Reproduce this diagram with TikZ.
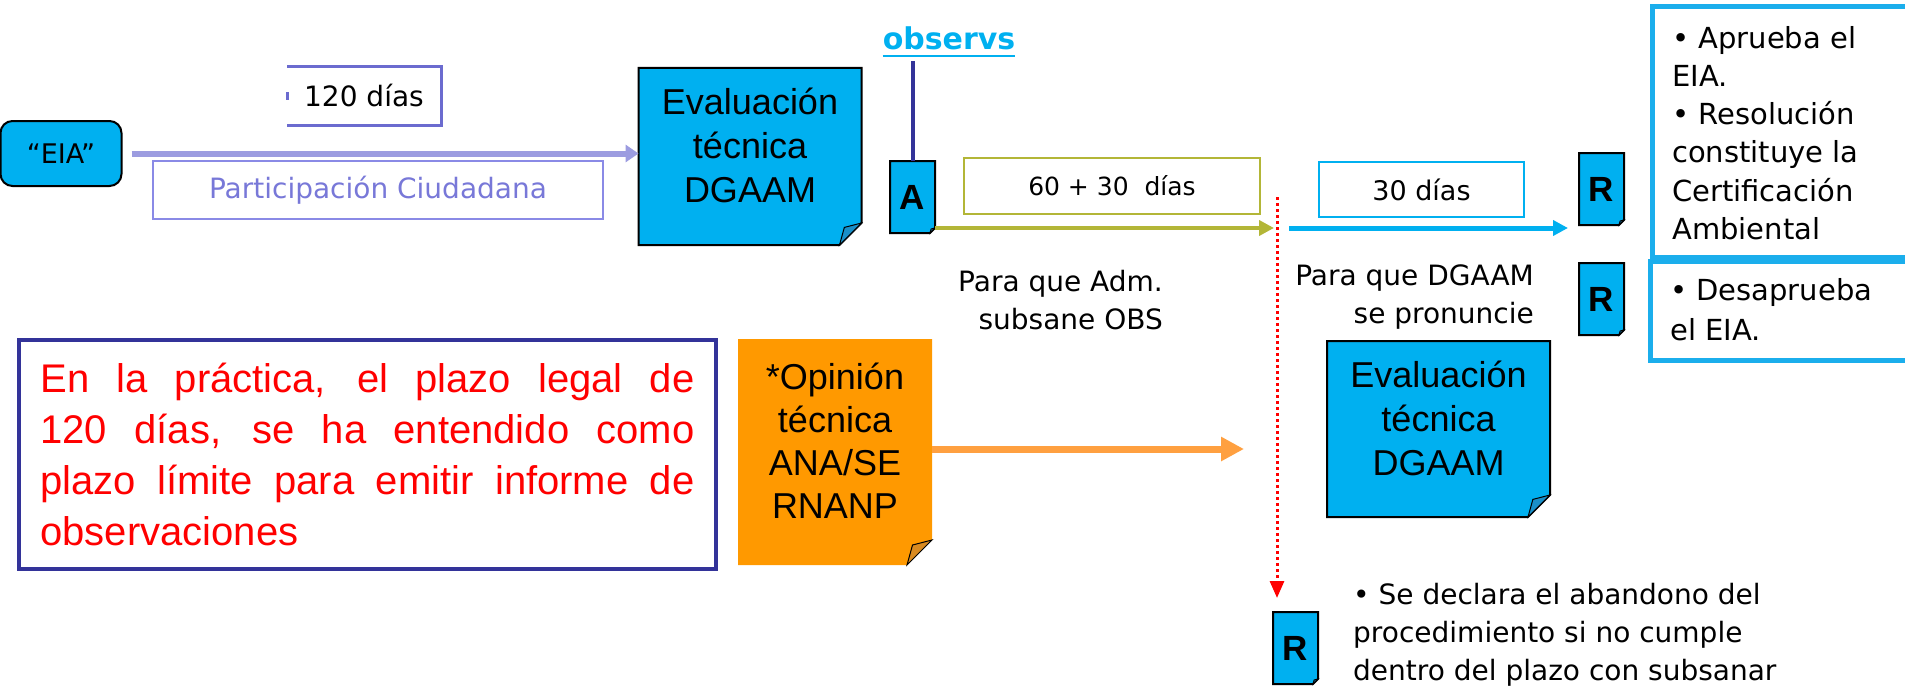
\documentclass[tikz,border=0pt]{standalone}
\usepackage{fontspec}
\setmainfont{Liberation Sans}
\newfontfamily\comic{DejaVu Sans}
\usetikzlibrary{arrows.meta,backgrounds}
\definecolor{cy}{HTML}{00B0F0}
\definecolor{cyfold}{HTML}{1A8FC8}
\definecolor{lav}{HTML}{9C9CE0}
\definecolor{lavdark}{HTML}{6B6BCF}
\definecolor{lavpart}{HTML}{8A8AE6}
\definecolor{lavtext}{HTML}{7878D8}
\definecolor{navy}{HTML}{333399}
\definecolor{olivec}{HTML}{B3B637}
\definecolor{orng}{HTML}{FF9900}
\definecolor{orngarrow}{HTML}{FFA040}
\definecolor{orngfold}{HTML}{D98A20}
\definecolor{boxcy}{HTML}{1BAEEC}
\newcommand{\foldshape}[5]{%
  \path[fill=#2,#5] (#1.north west) -- (#1.north east) -- ([yshift=#4]#1.south east)
    -- ([xshift=-#4]#1.south east) -- (#1.south west) -- cycle;
  \path[fill=#3,draw=black,line width=1pt] ([yshift=#4]#1.south east) -- ([xshift=-#4]#1.south east)
    -- ([xshift=-0.78*#4,yshift=0.8*#4]#1.south east) -- cycle;}
\begin{document}
\begin{tikzpicture}[x=1pt,y=-1pt,
  area/.style 2 args={inner sep=0pt,outer sep=0pt,minimum width=#1,minimum height=#2},
  comic/.style={font=\comic\fontsize{28}{38}\selectfont},
  arial/.style={font=\fontsize{36}{44}\selectfont,align=center,inner sep=0pt},
  letter/.style={font=\bfseries\fontsize{35}{35}\selectfont},
]
\useasboundingbox (0,0) rectangle (1905,693);

% top row
\node[area={121}{65}, rounded corners=12pt, fill=cy, draw=black, line width=2pt,
      font=\comic\fontsize{27}{30}\selectfont] (eia) at (61,153.5) {“EIA”};
\node[area={154}{58}, comic] (d120) at (364,96) {120 días};
\draw[lavdark, line width=3pt] (d120.north west) -- (d120.north east) -- (d120.south east) -- (d120.south west);
\draw[lavdark, line width=3pt] ([yshift=4pt]d120.west) -- ([yshift=-4pt]d120.west);
\node[area={450}{58}, draw=lavpart, line width=2pt, comic, text=lavtext] (part) at (378,190) {Participación Ciudadana};

\node[area={223}{177}] (ev1) at (750,156.5) {};
\node[arial] (ev1t) at (750,145) {Evaluación\\técnica\\DGAAM};

\node[area={45}{72}, letter] (a) at (912.5,197) {A};
\node[anchor=base, inner sep=0pt, font=\comic\bfseries\fontsize{30}{30}\selectfont, text=cy] (obs) at (949,50) {observs};
\draw[cy, line width=2.5pt] ([yshift=-6pt]obs.base west) -- ([yshift=-6pt]obs.base east);
\draw[navy, line width=4pt] (a.north) -- ([yshift=-10pt]obs.south -| a.north);

\node[area={296}{56}, draw=olivec, line width=2pt, font=\comic\fontsize{25}{30}\selectfont] (d60) at (1112,186) {60 + 30\ \ días};
\node[area={205}{55}, draw=cy, line width=2pt, font=\comic\fontsize{27}{30}\selectfont] (d30) at (1421.5,189.5) {30 días};

\node[area={45}{72}, letter] (r1) at (1601.5,189) {R};
\node[area={45}{72}, letter] (r2) at (1601.5,299) {R};

\node[area={263}{250}, draw=boxcy, line width=5pt] (apr) at (1784,132) {};
\node[font=\comic\fontsize{29}{38.2}\selectfont, align=left, anchor=west, inner sep=0pt] (aprt) at (1672,133)
  {• Aprueba el\\EIA.\\• Resolución\\constituye la\\Certificación\\Ambiental};
\node[area={266}{99}, draw=boxcy, line width=5pt] (des) at (1783,311) {};
\node[font=\comic\fontsize{29}{40}\selectfont, align=left, anchor=west, inner sep=0pt] (dest) at (1670,310)
  {• Desaprueba\\el EIA.};

\node[comic, align=right, anchor=east, inner sep=0pt] (pq1) at (1163,300) {Para que Adm.\\subsane OBS};
\node[comic, align=right, anchor=east, inner sep=0pt] (pq2) at (1534,297) {Para que DGAAM\\se pronuncie};

% lower part
\node[area={697}{229}, draw=navy, line width=4pt, text width=654pt, align=justify, text=red,
      font=\fontsize{40}{51}\selectfont] (note) at (367.5,454)
  {En la práctica, el plazo legal de\linebreak 120 días, se ha entendido como\linebreak plazo límite para emitir informe de\linebreak observaciones};

\node[area={194}{226}] (opn) at (835,452) {};
\node[arial, font=\fontsize{36}{43}\selectfont] (opnt) at (835,441) {*Opinión\\técnica\\ANA/SE\\RNANP};

\node[area={223}{176}] (ev2) at (1438.5,429) {};
\node[arial] (ev2t) at (1438.5,418) {Evaluación\\técnica\\DGAAM};

\node[area={45}{72}, letter] (r3) at (1295.5,648) {R};
\node[comic, align=left, anchor=west, inner sep=0pt] (aband) at (1353,635)
  {• Se declara el abandono del\\procedimiento si no cumple\\dentro del plazo con subsanar};

% connectors
\coordinate (redtop) at (1277,197);
\coordinate (mid) at (1277,228);
\coordinate (oend) at (1244,450);
\draw[lav, line width=6pt, -{Triangle[length=13pt,width=17pt]}, shorten <=10pt] (eia.east) -- (eia.east -| ev1.west);
\draw[olivec, line width=4.5pt, -{Triangle[length=15pt,width=15pt]}] ([yshift=5pt]a.south east) -- ([xshift=-3pt]mid);
\draw[cy, line width=5pt, -{Triangle[length=15pt,width=15pt]}, shorten >=11pt] ([xshift=12pt]mid) -- (mid -| r1.west);
\draw[red, line width=3pt, dash pattern=on 3pt off 3pt, -{Triangle[length=17pt,width=14pt]}, shorten >=14pt] (redtop) -- (redtop |- r3.north);
\draw[orngarrow, line width=7pt, -{Triangle[length=23pt,width=23pt]}] ([yshift=3pt]opn.east) -- ([yshift=3pt]opn.east -| oend);

\begin{scope}[on background layer]
  \foldshape{ev1}{cy}{cyfold}{22pt}{draw=black,line width=2pt}
  \foldshape{ev2}{cy}{cyfold}{22pt}{draw=black,line width=2pt}
  \foldshape{a}{cy}{cyfold}{5pt}{draw=black,line width=2pt}
  \foldshape{r1}{cy}{cyfold}{5pt}{draw=black,line width=2pt}
  \foldshape{r2}{cy}{cyfold}{5pt}{draw=black,line width=2pt}
  \foldshape{r3}{cy}{cyfold}{5pt}{draw=black,line width=2pt}
  \foldshape{opn}{orng}{orngfold}{25pt}{draw=none}
\end{scope}
\end{tikzpicture}
\end{document}
